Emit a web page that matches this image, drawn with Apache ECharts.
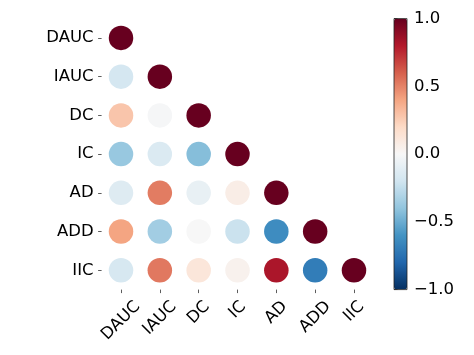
<!DOCTYPE html>
<html>
<head>
<meta charset="utf-8">
<script src="https://cdn.jsdelivr.net/npm/echarts@6/dist/echarts.min.js"></script>
<style>
html,body{margin:0;padding:0;background:#fff;}
#chart{width:474px;height:355px;}
</style>
</head>
<body>
<div id="chart"></div>
<script>
// Variable names (tick labels on both axes)
const labels = ['DAUC', 'IAUC', 'DC', 'IC', 'AD', 'ADD', 'IIC'];
// Lower-triangular correlation values, one row per variable
const rowDAUC = [1.0];
const rowIAUC = [-0.18, 1.0];
const rowDC   = [0.28, -0.01, 1.0];
const rowIC   = [-0.38, -0.15, -0.43, 1.0];
const rowAD   = [-0.13, 0.52, -0.08, 0.07, 1.0];
const rowADD  = [0.40, -0.35, 0.0, -0.22, -0.63, 1.0];
const rowIIC  = [-0.17, 0.53, 0.12, 0.04, 0.82, -0.70, 1.0];
const rows = [rowDAUC, rowIAUC, rowDC, rowIC, rowAD, rowADD, rowIIC];
// Colorbar ticks
const cbarTicks = [-1.0, -0.5, 0.0, 0.5, 1.0];
// RdBu_r colormap stops
const rdbuR = ['#053061','#2166ac','#4393c3','#92c5de','#d1e5f0','#f7f7f7','#fddbc7','#f4a582','#d6604d','#b2182b','#67001f'];

const data = [];
rows.forEach((r, i) => r.forEach((v, j) => data.push([j, i, v])));

const font = 'DejaVu Sans';
const fsz = 16.5;
// measure label widths so rotated labels are centred under their ticks (matplotlib style)
const ctx = document.createElement('canvas').getContext('2d');
ctx.font = fsz + 'px "' + font + '"';
const lineH = fsz * 1.1;
const rich = {};
labels.forEach((l, i) => {
  const w = ctx.measureText(l).width;
  const p = (w + lineH) / 2;
  rich['p' + i] = {fontFamily: font, fontSize: fsz, lineHeight: lineH, color: '#000', padding: [p, p, 0, 0]};
});

const chart = echarts.init(document.getElementById('chart'), null, {renderer: 'canvas'});
const fmt = v => (v < 0 ? '\u2212' : '') + Math.abs(v).toFixed(1);

chart.setOption({
  backgroundColor: '#fff',
  animation: false,
  grid: [
    {left: 101.6, top: 18.6, width: 271.8, height: 271, containLabel: false},
    {left: 394, top: 18.6, width: 13, height: 271, show: true, borderColor: '#222', borderWidth: 0.8, backgroundColor: 'transparent', z: 10}
  ],
  xAxis: [
    {
      type: 'category', data: labels, gridIndex: 0,
      axisLine: {show: false},
      axisTick: {show: true, alignWithLabel: true, length: 3.5, lineStyle: {color: '#333', width: 0.8}},
      axisLabel: {
        rotate: 45, margin: 8, align: 'center', verticalAlign: 'middle',
        fontFamily: font, fontSize: fsz, lineHeight: lineH, color: '#000', interval: 0,
        formatter: (v, i) => '{p' + labels.indexOf(v) + '|' + v + '}', rich: rich
      },
      splitLine: {show: false}
    },
    {type: 'value', gridIndex: 1, show: false, min: 0, max: 1}
  ],
  yAxis: [
    {
      type: 'category', data: labels, gridIndex: 0, inverse: true,
      axisLine: {show: false},
      axisTick: {show: true, alignWithLabel: true, length: 3.5, lineStyle: {color: '#333', width: 0.8}},
      axisLabel: {margin: 8, fontFamily: font, fontSize: fsz, color: '#000'},
      splitLine: {show: false}
    },
    {
      type: 'value', gridIndex: 1, position: 'right', min: -1, max: 1, interval: 0.5,
      axisLine: {show: false},
      axisTick: {show: true, length: 3.5, lineStyle: {color: '#333', width: 0.8}},
      axisLabel: {margin: 7, fontFamily: font, fontSize: fsz, color: '#000', formatter: fmt},
      splitLine: {show: false}
    }
  ],
  visualMap: {
    type: 'continuous', min: -1, max: 1, seriesIndex: 0, dimension: 2,
    inRange: {color: rdbuR},
    left: 394, top: 18.6, itemWidth: 13, itemHeight: 271, padding: 0,
    text: null, showLabel: false, calculable: false, realtime: false, hoverLink: false,
    orient: 'vertical'
  },
  series: [
    {
      type: 'scatter', xAxisIndex: 0, yAxisIndex: 0,
      data: data, symbol: 'circle', symbolSize: 24.5,
      itemStyle: {opacity: 1}
    },
    {type: 'scatter', xAxisIndex: 1, yAxisIndex: 1, data: [], silent: true}
  ]
});
</script>
</body>
</html>
